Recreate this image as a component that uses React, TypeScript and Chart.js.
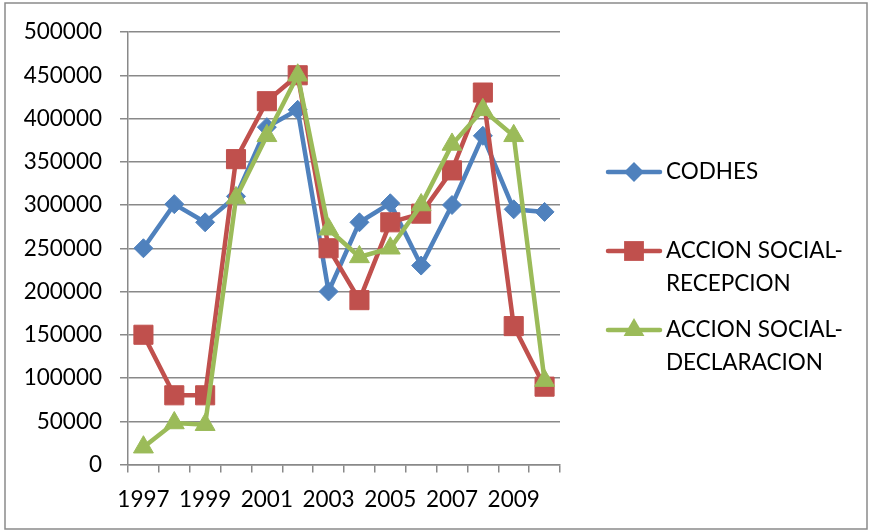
import { useEffect, useRef } from 'react';
import { Chart, registerables } from 'chart.js';

Chart.register(...registerables);

const years = ['1997', '1998', '1999', '2000', '2001', '2002', '2003', '2004', '2005', '2006', '2007', '2008', '2009', '2010'];
const codhes = [250000, 301000, 280000, 310000, 390000, 410000, 200000, 280000, 302000, 230000, 300000, 380000, 295000, 292000];
const recepcion = [150000, 80000, 80000, 353000, 420000, 450000, 250000, 190000, 280000, 290000, 340000, 430000, 160000, 90000];
const declaracion = [20000, 48000, 46000, 308000, 380000, 450000, 272000, 240000, 250000, 300000, 370000, 410000, 380000, 97000];
const seriesLabels: string[][] = [['CODHES'], ['ACCION SOCIAL-', 'RECEPCION'], ['ACCION SOCIAL-', 'DECLARACION']];
const yMin = 0;
const yMax = 500000;
const yStep = 50000;

const FONT = 'Lato, "Open Sans", sans-serif';
const FONT_SIZE = 22.5;
const BLUE = '#4F81BD';
const RED = '#C0504D';
const GREEN = '#9BBB59';
const GRID = '#898989';

function drawMarker(ctx: CanvasRenderingContext2D, style: string, x: number, y: number, r: number, color: string) {
  ctx.beginPath();
  if (style === 'rectRot') {
    ctx.moveTo(x - r, y);
    ctx.lineTo(x, y - r);
    ctx.lineTo(x + r, y);
    ctx.lineTo(x, y + r);
  } else if (style === 'rect') {
    const s = r * Math.SQRT1_2;
    ctx.rect(x - s, y - s, 2 * s, 2 * s);
  } else {
    ctx.moveTo(x, y - r);
    ctx.lineTo(x + r * Math.sin((2 * Math.PI) / 3), y + r * 0.5);
    ctx.lineTo(x - r * Math.sin((2 * Math.PI) / 3), y + r * 0.5);
  }
  ctx.closePath();
  ctx.fillStyle = color;
  ctx.fill();
}

const legendRows = [172, 251, 330];

const customPlugin = {
  id: 'customLegendFrame',
  afterDraw(chart: any) {
    const ctx: CanvasRenderingContext2D = chart.ctx;
    ctx.save();
    ctx.strokeStyle = '#8a8a8a';
    ctx.lineWidth = 1.5;
    ctx.strokeRect(5, 3, 862, 526);
    chart.data.datasets.forEach((ds: any, i: number) => {
      const y = legendRows[i];
      ctx.strokeStyle = ds.borderColor;
      ctx.lineWidth = 4.5;
      ctx.lineCap = 'round';
      ctx.beginPath();
      ctx.moveTo(608, y);
      ctx.lineTo(660, y);
      ctx.stroke();
      drawMarker(ctx, ds.pointStyle, 634, y, ds.pointRadius + 0.5, ds.borderColor);
      ctx.fillStyle = '#000';
      ctx.font = `${FONT_SIZE}px ${FONT}`;
      ctx.textBaseline = 'middle';
      ctx.textAlign = 'left';
      const lines = seriesLabels[i];
      lines.forEach((t, j) => ctx.fillText(t, 666, y + j * 33));
    });
    ctx.restore();
  },
};

export default function App() {
  const ref = useRef<HTMLCanvasElement>(null);
  useEffect(() => {
    if (!ref.current) return;
    const chart = new Chart(ref.current, {
      type: 'line',
      data: {
        labels: years,
        datasets: [
          {
            label: seriesLabels[0].join(' '),
            data: codhes,
            borderColor: BLUE,
            backgroundColor: BLUE,
            borderWidth: 4.5,
            pointStyle: 'rectRot',
            pointRadius: 9.5,
            pointBorderWidth: 1,
            pointBorderColor: BLUE,
            pointBackgroundColor: BLUE,
            order: 2,
            tension: 0,
          },
          {
            label: seriesLabels[1].join(' '),
            data: recepcion,
            borderColor: RED,
            backgroundColor: RED,
            borderWidth: 4.5,
            pointStyle: 'rect',
            pointRadius: 13.5,
            pointBorderWidth: 1,
            pointBorderColor: RED,
            pointBackgroundColor: RED,
            order: 1,
            tension: 0,
          },
          {
            label: seriesLabels[2].join(' '),
            data: declaracion,
            borderColor: GREEN,
            backgroundColor: GREEN,
            borderWidth: 4.5,
            pointStyle: 'triangle',
            pointRadius: 11.5,
            pointBorderWidth: 1,
            pointBorderColor: GREEN,
            pointBackgroundColor: GREEN,
            order: 0,
            tension: 0,
          },
        ],
      },
      options: {
        animation: false,
        responsive: true,
        maintainAspectRatio: false,
        layout: { padding: { top: 32, right: 309, bottom: 0, left: 0 } },
        plugins: {
          legend: { display: false },
          tooltip: { enabled: false },
          title: { display: false },
        },
        scales: {
          x: {
            type: 'category',
            offset: true,
            afterFit: (s: any) => {
              s.height = 66.5;
            },
            grid: {
              offset: true,
              drawOnChartArea: false,
              drawTicks: true,
              tickLength: 8,
              color: GRID,
              lineWidth: 1.5,
            },
            border: { display: true, color: GRID, width: 1.5 },
            ticks: {
              autoSkip: false,
              maxRotation: 0,
              minRotation: 0,
              padding: 14,
              color: '#000',
              font: { family: FONT, size: FONT_SIZE },
              callback: (_v: any, i: number) => (i % 2 === 0 ? years[i] : ''),
            },
          },
          y: {
            min: yMin,
            max: yMax,
            afterFit: (s: any) => {
              s.width = 128;
            },
            grid: {
              color: GRID,
              lineWidth: 1.5,
              tickLength: 8,
            },
            border: { display: true, color: GRID, width: 1.5 },
            ticks: {
              stepSize: yStep,
              padding: 18,
              color: '#000',
              font: { family: FONT, size: FONT_SIZE },
              callback: (v: any) => String(v),
            },
          },
        },
      },
      plugins: [customPlugin],
    });
    return () => chart.destroy();
  }, []);
  return (
    <div style={{ position: 'absolute', left: 0, top: 0, width: 869, height: 531, background: '#fff' }}>
      <canvas ref={ref} />
    </div>
  );
}
